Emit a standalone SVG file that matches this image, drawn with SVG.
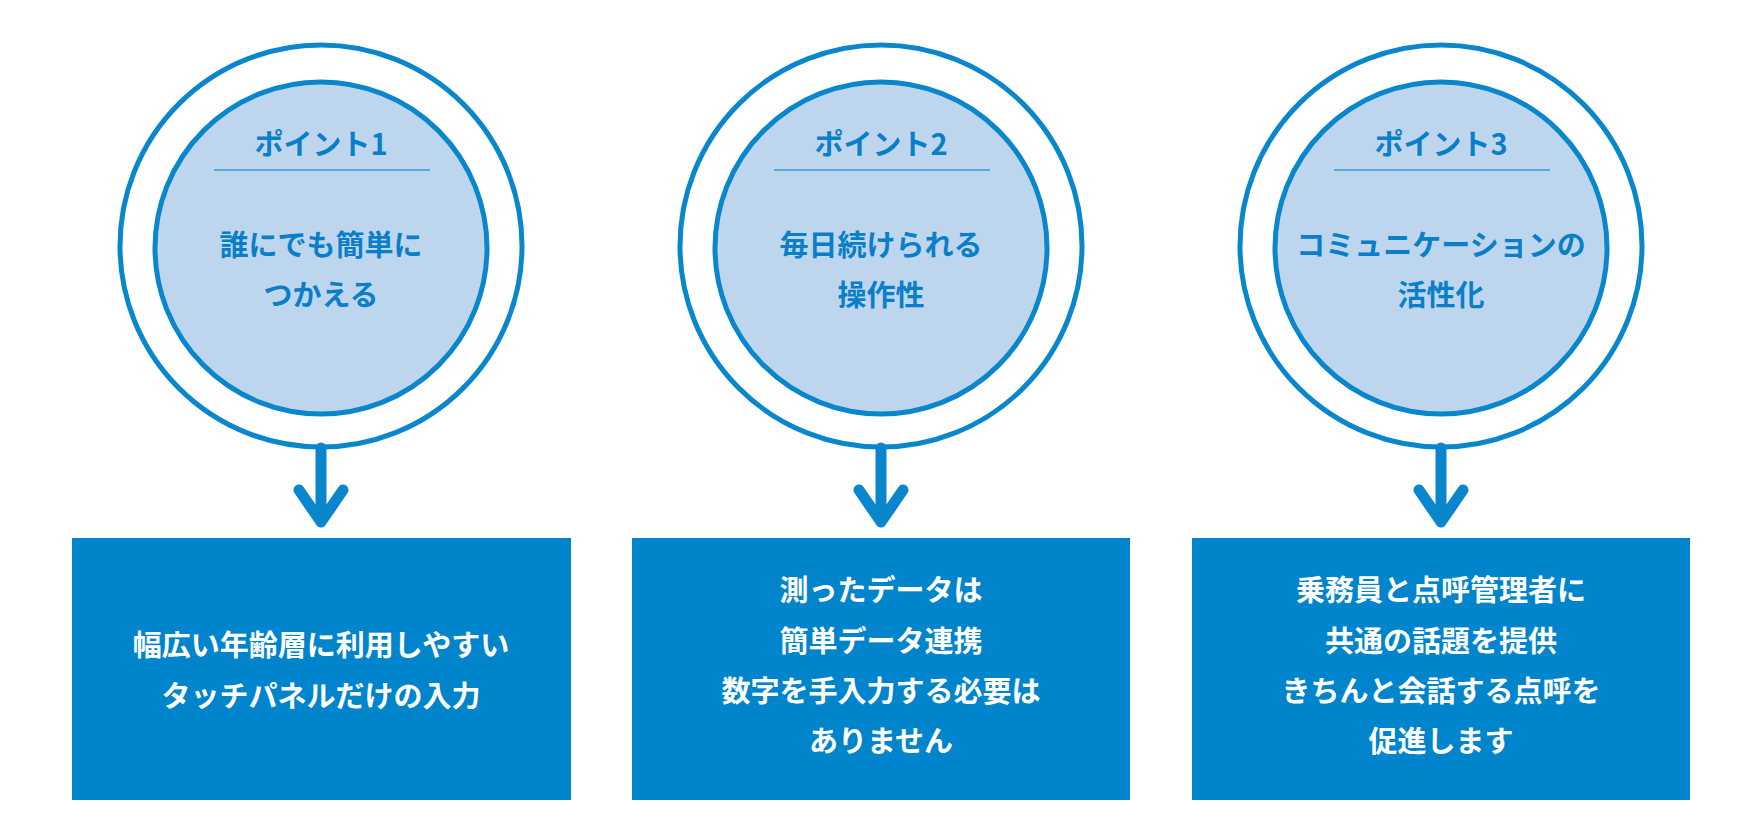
<svg xmlns="http://www.w3.org/2000/svg" width="1760" height="840" viewBox="0 0 1760 840">
<style>
.outer{fill:#fff;stroke:#0a86cc;stroke-width:5}
.inner{fill:#bdd6ee;stroke:#0a86cc;stroke-width:5}
.sep{stroke:#3a9ad6;stroke-width:1.5}
.t{font-family:"Noto Sans CJK JP","Noto Sans",sans-serif;font-weight:bold;text-anchor:middle;font-size:29px}
.ct{fill:#0a7fc8}
.bt{fill:#fff}
.box{fill:#0085cc}
.arr{fill:none;stroke:#0a86cc;stroke-width:11;stroke-linecap:round;stroke-linejoin:round}
</style>
<rect width="1760" height="840" fill="#fff"/>
<g id="point1">
<circle class="outer" cx="321" cy="246" r="201"/>
<circle class="inner" cx="321" cy="248" r="166"/>
<text class="t ct" x="321" y="155">ポイント1</text>
<line class="sep" x1="214" y1="170" x2="430" y2="170"/>
<text class="t ct" x="321" y="256">誰にでも簡単に</text>
<text class="t ct" x="321" y="306">つかえる</text>
</g>
<g id="point2">
<circle class="outer" cx="881" cy="246" r="201"/>
<circle class="inner" cx="881" cy="248" r="166"/>
<text class="t ct" x="881" y="155">ポイント2</text>
<line class="sep" x1="774" y1="170" x2="990" y2="170"/>
<text class="t ct" x="881" y="256">毎日続けられる</text>
<text class="t ct" x="881" y="306">操作性</text>
</g>
<g id="point3">
<circle class="outer" cx="1441" cy="246" r="201"/>
<circle class="inner" cx="1441" cy="248" r="166"/>
<text class="t ct" x="1441" y="155">ポイント3</text>
<line class="sep" x1="1334" y1="170" x2="1550" y2="170"/>
<text class="t ct" x="1441" y="256">コミュニケーションの</text>
<text class="t ct" x="1441" y="306">活性化</text>
</g>
<g id="box1">
<rect class="box" x="72" y="538" width="499" height="262"/>
<text class="t bt" x="321" y="656">幅広い年齢層に利用しやすい</text>
<text class="t bt" x="321" y="707">タッチパネルだけの入力</text>
</g>
<g id="box2">
<rect class="box" x="632" y="538" width="498" height="262"/>
<text class="t bt" x="881" y="601">測ったデータは</text>
<text class="t bt" x="881" y="652">簡単データ連携</text>
<text class="t bt" x="881" y="702">数字を手入力する必要は</text>
<text class="t bt" x="881" y="752">ありません</text>
</g>
<g id="box3">
<rect class="box" x="1192" y="538" width="498" height="262"/>
<text class="t bt" x="1441" y="601">乗務員と点呼管理者に</text>
<text class="t bt" x="1441" y="652">共通の話題を提供</text>
<text class="t bt" x="1441" y="702">きちんと会話する点呼を</text>
<text class="t bt" x="1441" y="752">促進します</text>
</g>
<g id="connectors">
<path class="arr" d="M321 448V522M299 490L321 522L343 490"/>
<path class="arr" d="M881 448V522M859 490L881 522L903 490"/>
<path class="arr" d="M1441 448V522M1419 490L1441 522L1463 490"/>
</g>
</svg>
